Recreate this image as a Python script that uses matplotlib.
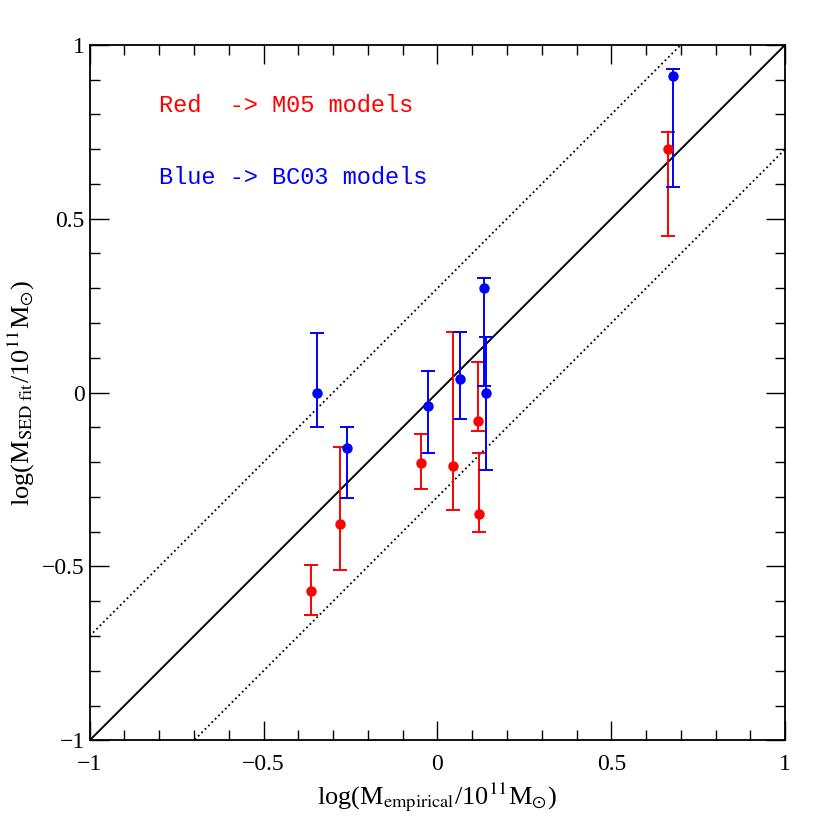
import numpy as np
import matplotlib.pyplot as plt
from matplotlib.ticker import MultipleLocator

plt.rcParams['font.family'] = ['Liberation Serif', 'DejaVu Serif']
plt.rcParams['mathtext.fontset'] = 'stix'

# M05 models (red)
red_x = [-0.364, -0.279, -0.046, 0.046, 0.118, 0.120, 0.663]
red_y = [-0.571, -0.378, -0.202, -0.210, -0.082, -0.350, 0.70]
red_hi = [-0.496, -0.156, -0.120, 0.175, 0.089, -0.175, 0.75]
red_lo = [-0.640, -0.511, -0.277, -0.338, -0.110, -0.400, 0.45]

# BC03 models (blue)
blue_x = [-0.347, -0.260, -0.027, 0.065, 0.140, 0.135, 0.678]
blue_y = [0.0, -0.158, -0.038, 0.040, 0.0, 0.30, 0.91]
blue_hi = [0.17, -0.098, 0.063, 0.175, 0.16, 0.33, 0.93]
blue_lo = [-0.098, -0.303, -0.175, -0.077, -0.223, 0.019, 0.59]

fig = plt.figure(figsize=(8.3, 8.3), dpi=100)
ax = fig.add_axes([0.108, 0.108, 0.838, 0.838])

line = np.array([-1, 1])
ax.plot(line, line, color='black', lw=1.4)
ax.plot(line, line + 0.3, color='black', lw=1.3, ls=':')
ax.plot(line, line - 0.3, color='black', lw=1.3, ls=':')

for xs, ys, hi, lo, c in [(red_x, red_y, red_hi, red_lo, 'red'),
                          (blue_x, blue_y, blue_hi, blue_lo, 'blue')]:
    ys = np.array(ys)
    err = [ys - np.array(lo), np.array(hi) - ys]
    ax.errorbar(xs, ys, yerr=err, fmt='o', color=c, ms=6.5, capsize=5,
                elinewidth=1.4, capthick=1.4)

ax.text(-0.8, 0.825, 'Red  -> M05 models', color='red', fontsize=17,
        va='center', family=['Liberation Mono'])
ax.text(-0.8, 0.618, 'Blue -> BC03 models', color='blue', fontsize=17,
        va='center', family=['Liberation Mono'])

ax.set_xlim(-1, 1)
ax.set_ylim(-1, 1)
for a in (ax.xaxis, ax.yaxis):
    a.set_major_locator(MultipleLocator(0.5))
    a.set_minor_locator(MultipleLocator(0.1))
ax.tick_params(which='both', direction='in', top=True, right=True, labelsize=17)
ax.tick_params(which='major', length=14, width=1)
ax.tick_params(which='minor', length=7, width=1)
fmt = lambda v: '0' if abs(v) < 1e-9 else ('%g' % v).replace('-', '\u2212')
ax.set_xticks([-1, -0.5, 0, 0.5, 1])
ax.set_xticklabels([fmt(v) for v in [-1, -0.5, 0, 0.5, 1]])
ax.set_yticks([-1, -0.5, 0, 0.5, 1])
ax.set_yticklabels([fmt(v) for v in [-1, -0.5, 0, 0.5, 1]])
ax.tick_params(axis='x', pad=10)
ax.set_xlabel(r'log(M$_{\rm empirical}$/10$^{11}$M$_{\odot}$)', fontsize=19)
ax.set_ylabel(r'log(M$_{\rm SED\ fit}$/10$^{11}$M$_{\odot}$)', fontsize=19)
for s in ax.spines.values():
    s.set_linewidth(1.3)

fig.savefig('out.png')
